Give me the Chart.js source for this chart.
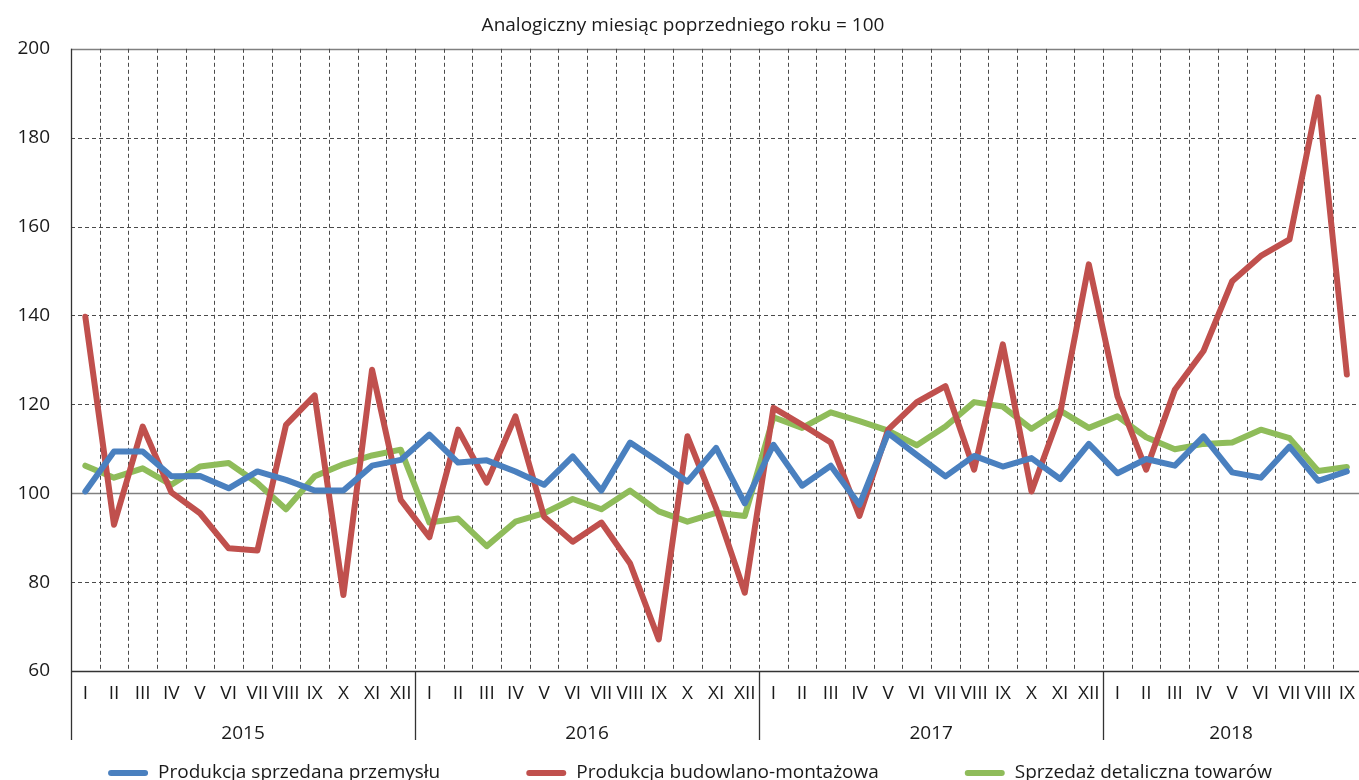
<!DOCTYPE html>
<html>
<head>
<meta charset="utf-8">
<script src="https://cdn.jsdelivr.net/npm/chart.js@4.4.0/dist/chart.umd.min.js"></script>
<style>
  html, body { margin: 0; padding: 0; overflow: hidden; background: #fff; }
</style>
</head>
<body>
<canvas id="chart" width="1366" height="780"></canvas>
<script>
// months / years
const months = ['I', 'II', 'III', 'IV', 'V', 'VI', 'VII', 'VIII', 'IX', 'X', 'XI', 'XII'];
const years = ['2015', '2016', '2017', '2018'];
const monthsInYear = [12, 12, 12, 9];
const yTicks = [60, 80, 100, 120, 140, 160, 180, 200];

// analogiczny miesiac poprzedniego roku = 100
const przemysl = [
  100.4, 109.4, 109.4, 103.8, 103.9, 101.1, 104.9, 103.0, 100.6, 100.6, 106.2, 107.5,
  113.2, 106.9, 107.4, 104.9, 101.9, 108.3, 100.6, 111.4, 107.1, 102.6, 110.2, 97.7,
  110.9, 101.7, 106.2, 97.4, 113.5, 108.6, 103.8, 108.4, 106.0, 107.9, 103.2, 111.1,
  104.5, 107.7, 106.2, 112.8, 104.7, 103.5, 110.5, 102.8, 104.9
];
const budownictwo = [
  139.7, 92.9, 115.0, 100.2, 95.5, 87.6, 87.1, 115.4, 122.0, 77.1, 127.8, 98.5,
  90.1, 114.3, 102.4, 117.3, 94.7, 89.1, 93.4, 84.2, 67.1, 112.8, 96.6, 77.6,
  119.2, 115.4, 111.4, 94.9, 114.3, 120.5, 124.1, 105.3, 133.5, 100.4, 118.0, 151.5,
  121.8, 105.3, 123.3, 132.0, 147.7, 153.4, 157.1, 189.1, 126.7
];
const detal = [
  106.2, 103.5, 105.6, 101.9, 106.0, 106.8, 102.3, 96.4, 103.8, 106.5, 108.5, 109.8,
  93.4, 94.3, 88.1, 93.6, 95.5, 98.7, 96.4, 100.6, 95.9, 93.6, 95.6, 94.9,
  117.1, 114.7, 118.2, 116.2, 114.1, 110.8, 115.0, 120.5, 119.5, 114.5, 118.6, 114.7,
  117.3, 112.6, 109.9, 111.1, 111.4, 114.3, 112.4, 105.0, 105.9
];

const labels = [];
monthsInYear.forEach(n => { for (let i = 0; i < n; i++) labels.push(months[i]); });

Chart.defaults.font.family = '"Open Sans", sans-serif';
Chart.defaults.color = '#1a1a1a';

const FONT = '19px "Open Sans", sans-serif';

// siatka, osie, lata, legenda
const extras = {
  id: 'extras',
  beforeDatasetsDraw(chart) {
    const { ctx, chartArea: { left, right, top, bottom }, scales: { x, y } } = chart;
    ctx.save();
    ctx.lineWidth = 1;
    // poziome
    yTicks.forEach(v => {
      if (v === 60) return;
      const py = Math.round(y.getPixelForValue(v)) + 0.5;
      ctx.beginPath();
      if (v === 100 || v === 200) {
        ctx.setLineDash([]);
        ctx.strokeStyle = '#808080';
        ctx.lineWidth = 1.5;
      } else {
        ctx.setLineDash([4, 3]);
        ctx.strokeStyle = '#4a4a4a';
        ctx.lineWidth = 1;
      }
      ctx.moveTo(left, py);
      ctx.lineTo(right, py);
      ctx.stroke();
    });
    // pionowe
    ctx.setLineDash([4, 3]);
    ctx.strokeStyle = '#4a4a4a';
    ctx.lineWidth = 1;
    for (let i = 1; i < labels.length; i++) {
      const px = Math.round((x.getPixelForValue(i - 1) + x.getPixelForValue(i)) / 2) + 0.5;
      ctx.beginPath();
      ctx.moveTo(px, top);
      ctx.lineTo(px, bottom);
      ctx.stroke();
    }
    ctx.restore();
  },
  afterDatasetsDraw(chart) {
    const { ctx, chartArea: { left, right, top, bottom }, scales: { x } } = chart;
    const half = (x.getPixelForValue(1) - x.getPixelForValue(0)) / 2;
    ctx.save();
    ctx.setLineDash([]);
    ctx.strokeStyle = '#333';
    ctx.lineWidth = 1.3;
    // os x
    ctx.beginPath();
    ctx.moveTo(left, Math.round(bottom) + 0.5);
    ctx.lineTo(right, Math.round(bottom) + 0.5);
    ctx.stroke();
    // os y
    ctx.beginPath();
    ctx.moveTo(Math.round(left) + 0.5, top);
    ctx.lineTo(Math.round(left) + 0.5, bottom + 69);
    ctx.stroke();
    // lata
    ctx.font = FONT;
    ctx.fillStyle = '#1a1a1a';
    ctx.textAlign = 'center';
    ctx.textBaseline = 'middle';
    let start = 0;
    years.forEach((yr, k) => {
      const end = start + monthsInYear[k] - 1;
      const x0 = x.getPixelForValue(start) - half;
      const x1 = Math.min(x.getPixelForValue(end) + half, chart.width - 7);
      ctx.fillText(yr, (x0 + x1) / 2, bottom + 63);
      if (k > 0) {
        const px = Math.round(x0) + 0.5;
        ctx.beginPath();
        ctx.moveTo(px, bottom);
        ctx.lineTo(px, bottom + 69);
        ctx.stroke();
      }
      start = end + 1;
    });
    // legenda
    const ds = chart.data.datasets;
    const gap = 86, lineW = 40, textGap = 10;
    const widths = ds.map(d => ctx.measureText(d.label).width);
    const total = widths.reduce((a, w) => a + lineW + textGap + w, 0) + gap * (ds.length - 1);
    let cx = 690 - total / 2;
    const ly = 773;
    ctx.textAlign = 'left';
    ctx.lineCap = 'round';
    ds.forEach((d, i) => {
      ctx.strokeStyle = d.borderColor;
      ctx.lineWidth = 6;
      ctx.beginPath();
      ctx.moveTo(cx + 3, ly);
      ctx.lineTo(cx + lineW - 3, ly);
      ctx.stroke();
      ctx.fillText(d.label, cx + lineW + textGap, ly);
      cx += lineW + textGap + widths[i] + gap;
    });
    ctx.restore();
  }
};

const lineStyle = {
  borderWidth: 6,
  pointRadius: 0,
  pointHoverRadius: 0,
  tension: 0,
  fill: false,
  borderJoinStyle: 'round',
  borderCapStyle: 'round'
};

new Chart(document.getElementById('chart').getContext('2d'), {
  type: 'line',
  data: {
    labels: labels,
    datasets: [
      { label: 'Produkcja sprzedana przemysłu', data: przemysl, borderColor: '#4a80bf', backgroundColor: '#4a80bf', ...lineStyle },
      { label: 'Produkcja budowlano-montażowa', data: budownictwo, borderColor: '#c0504d', backgroundColor: '#c0504d', ...lineStyle },
      { label: 'Sprzedaż detaliczna towarów', data: detal, borderColor: '#8fbc5a', backgroundColor: '#8fbc5a', ...lineStyle }
    ]
  },
  options: {
    responsive: false,
    animation: false,
    layout: { padding: { left: 0, right: 0, top: 0, bottom: 24 } },
    plugins: {
      legend: { display: false },
      tooltip: { enabled: false },
      title: {
        display: true,
        text: 'Analogiczny miesiąc poprzedniego roku = 100',
        font: { size: 19, weight: 'normal' },
        color: '#1a1a1a',
        padding: { top: 14, bottom: 12 }
      }
    },
    scales: {
      x: {
        offset: true,
        grid: { display: false, drawTicks: false },
        border: { display: false },
        ticks: { autoSkip: false, maxRotation: 0, font: { size: 19 }, color: '#1a1a1a', padding: 11 },
        afterFit: s => { s.height = 85; }
      },
      y: {
        min: 60,
        max: 200,
        grid: { display: false, drawTicks: false },
        border: { display: false },
        ticks: { stepSize: 20, font: { size: 19 }, color: '#1a1a1a', padding: 21 },
        afterFit: s => { s.width = 71; }
      }
    }
  },
  plugins: [extras]
});
</script>
</body>
</html>
